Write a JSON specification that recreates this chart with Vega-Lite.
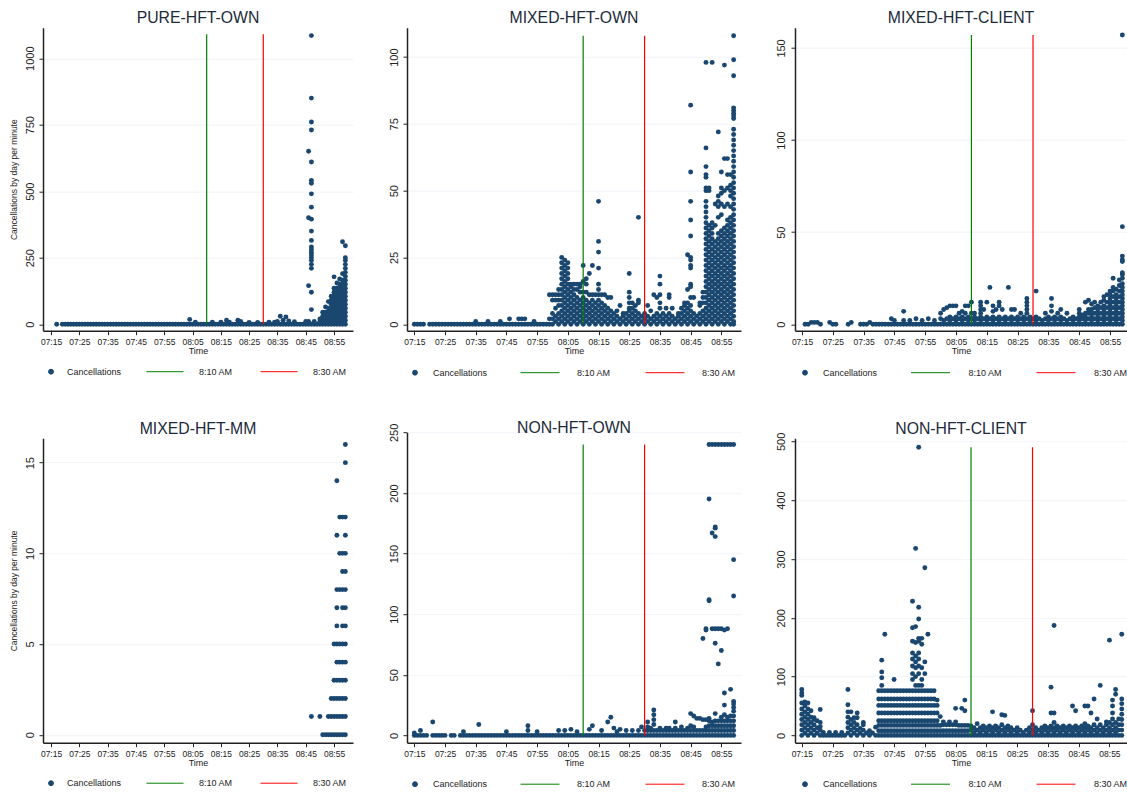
{"$schema":"https://vega.github.io/schema/vega-lite/v6.json","padding":{"left":9,"top":9.7,"right":0,"bottom":0},"background":"white","bounds":"flush","columns":3,"spacing":{"column":54,"row":107.5},"align":"none","resolve":{"scale":{"color":"independent"},"legend":{"color":"independent"}},"config":{"font":"Liberation Sans","view":{"stroke":null},"title":{"font":"Liberation Sans","fontSize":15.8,"fontWeight":"normal","color":"#1c2a3a","offset":1},"axis":{"labelFont":"Liberation Sans","titleFont":"Liberation Sans","grid":false,"domainColor":"#222","domainWidth":1.5,"tickColor":"#222","titleFontWeight":"normal"},"axisX":{"tickSize":4,"labelFontSize":8.5,"labelPadding":3,"titleFontSize":9,"titlePadding":0,"labelColor":"#222","titleColor":"#222","labelExpr":"timeFormat(datetime(2020,0,1,7,datum.value),'%H:%M')"},"axisY":{"grid":true,"gridColor":"#f1f4f8","gridWidth":1,"tickSize":4,"labelFontSize":11,"labelAngle":-90,"labelPadding":4,"labelColor":"#222","titleFontSize":8.5,"titlePadding":6,"titleColor":"#222","format":"d"},"legend":{"orient":"none","direction":"horizontal","columns":3,"gridAlign":"all","title":null,"labelFontSize":9,"labelColor":"#222","symbolSize":1369,"columnPadding":22,"labelOffset":15,"legendY":325}},"concat":[{"title":"PURE-HFT-OWN","width":310,"height":303,"layer":[{"data":{"values":[{"t":17,"n":0},{"t":19,"n":0},{"t":20,"n":0},{"t":21,"n":0},{"t":22,"n":0},{"t":23,"n":0},{"t":24,"n":0},{"t":25,"n":0},{"t":26,"n":0},{"t":27,"n":0},{"t":28,"n":0},{"t":29,"n":0},{"t":30,"n":0},{"t":31,"n":0},{"t":32,"n":0},{"t":33,"n":0},{"t":34,"n":0},{"t":35,"n":0},{"t":36,"n":0},{"t":37,"n":0},{"t":38,"n":0},{"t":39,"n":0},{"t":40,"n":0},{"t":41,"n":0},{"t":42,"n":0},{"t":43,"n":0},{"t":44,"n":0},{"t":45,"n":0},{"t":46,"n":0},{"t":47,"n":0},{"t":48,"n":0},{"t":49,"n":0},{"t":50,"n":0},{"t":51,"n":0},{"t":52,"n":0},{"t":53,"n":0},{"t":54,"n":0},{"t":55,"n":0},{"t":56,"n":0},{"t":57,"n":0},{"t":58,"n":0},{"t":59,"n":0},{"t":60,"n":0},{"t":61,"n":0},{"t":62,"n":0},{"t":63,"n":0},{"t":64,"n":0},{"t":65,"n":0},{"t":66,"n":0},{"t":67,"n":0},{"t":68,"n":0},{"t":69,"n":0},{"t":70,"n":0},{"t":71,"n":0},{"t":72,"n":0},{"t":73,"n":0},{"t":74,"n":0},{"t":75,"n":0},{"t":76,"n":0},{"t":77,"n":0},{"t":78,"n":0},{"t":79,"n":0},{"t":80,"n":0},{"t":81,"n":0},{"t":82,"n":0},{"t":83,"n":0},{"t":84,"n":0},{"t":85,"n":0},{"t":86,"n":0},{"t":87,"n":0},{"t":88,"n":0},{"t":89,"n":0},{"t":90,"n":0},{"t":91,"n":0},{"t":92,"n":0},{"t":93,"n":0},{"t":94,"n":0},{"t":95,"n":0},{"t":96,"n":0},{"t":97,"n":0},{"t":98,"n":0},{"t":99,"n":0},{"t":100,"n":0},{"t":101,"n":0},{"t":102,"n":0},{"t":103,"n":0},{"t":104,"n":0},{"t":105,"n":0},{"t":106,"n":0},{"t":107,"n":0},{"t":108,"n":0},{"t":109,"n":0},{"t":110,"n":0},{"t":111,"n":0},{"t":112,"n":0},{"t":113,"n":0},{"t":114,"n":0},{"t":115,"n":0},{"t":116,"n":0},{"t":117,"n":0},{"t":118,"n":0},{"t":119,"n":0},{"t":64,"n":18},{"t":66,"n":8},{"t":72,"n":8},{"t":75,"n":8},{"t":77,"n":15},{"t":78,"n":8},{"t":81,"n":15},{"t":82,"n":10},{"t":85,"n":7},{"t":88,"n":7},{"t":92,"n":8},{"t":94,"n":8},{"t":95,"n":10},{"t":96,"n":30},{"t":97,"n":15},{"t":98,"n":27},{"t":99,"n":12},{"t":101,"n":9},{"t":105,"n":10},{"t":106,"n":10},{"t":108,"n":10},{"t":107,"n":1085},{"t":107,"n":850},{"t":107,"n":760},{"t":107,"n":730},{"t":107,"n":610},{"t":107,"n":540},{"t":107,"n":530},{"t":107,"n":490},{"t":107,"n":440},{"t":107,"n":395},{"t":107,"n":350},{"t":107,"n":315},{"t":107,"n":290},{"t":107,"n":280},{"t":107,"n":270},{"t":107,"n":260},{"t":107,"n":250},{"t":107,"n":240},{"t":107,"n":225},{"t":107,"n":210},{"t":107,"n":120},{"t":107,"n":55},{"t":106,"n":650},{"t":106,"n":400},{"t":106,"n":145},{"t":110,"n":10},{"t":110,"n":20},{"t":111,"n":15},{"t":111,"n":30},{"t":111,"n":45},{"t":112,"n":15},{"t":112,"n":30},{"t":112,"n":45},{"t":112,"n":65},{"t":113,"n":15},{"t":113,"n":30},{"t":113,"n":45},{"t":113,"n":60},{"t":113,"n":85},{"t":114,"n":15},{"t":114,"n":30},{"t":114,"n":45},{"t":114,"n":60},{"t":114,"n":75},{"t":114,"n":90},{"t":114,"n":105},{"t":115,"n":15},{"t":115,"n":30},{"t":115,"n":45},{"t":115,"n":60},{"t":115,"n":75},{"t":115,"n":90},{"t":115,"n":105},{"t":115,"n":120},{"t":115,"n":135},{"t":115,"n":178},{"t":116,"n":15},{"t":116,"n":30},{"t":116,"n":45},{"t":116,"n":60},{"t":116,"n":75},{"t":116,"n":90},{"t":116,"n":105},{"t":116,"n":120},{"t":116,"n":135},{"t":116,"n":155},{"t":117,"n":15},{"t":117,"n":30},{"t":117,"n":45},{"t":117,"n":60},{"t":117,"n":75},{"t":117,"n":90},{"t":117,"n":105},{"t":117,"n":120},{"t":117,"n":135},{"t":117,"n":150},{"t":117,"n":170},{"t":118,"n":15},{"t":118,"n":30},{"t":118,"n":45},{"t":118,"n":60},{"t":118,"n":75},{"t":118,"n":90},{"t":118,"n":105},{"t":118,"n":120},{"t":118,"n":135},{"t":118,"n":150},{"t":118,"n":165},{"t":118,"n":190},{"t":118,"n":310},{"t":119,"n":15},{"t":119,"n":30},{"t":119,"n":45},{"t":119,"n":60},{"t":119,"n":75},{"t":119,"n":90},{"t":119,"n":105},{"t":119,"n":120},{"t":119,"n":135},{"t":119,"n":150},{"t":119,"n":165},{"t":119,"n":180},{"t":119,"n":195},{"t":119,"n":210},{"t":119,"n":225},{"t":119,"n":240},{"t":119,"n":250},{"t":119,"n":295}]},"mark":{"type":"point","filled":true,"opacity":1,"shape":"circle","size":24},"encoding":{"x":{"field":"t","type":"quantitative","title":"Time","scale":{"domain":[12.17,121.7],"nice":false,"zero":false},"axis":{"values":[15,25,35,45,55,65,75,85,95,105,115],"labelOverlap":false}},"y":{"field":"n","type":"quantitative","title":"Cancellations by day per minute","scale":{"domain":[-24.4,1114.7],"nice":false,"zero":false},"axis":{"values":[0,250,500,750,1000]}},"color":{"datum":"Cancellations","scale":{"domain":["Cancellations","8:10 AM","8:30 AM"],"range":["#1a476f","#008000","#ff0000"]},"legend":{"legendX":-11,"encoding":{"symbols":{"shape":{"value":{"signal":"datum.value==='Cancellations'?'circle':'stroke'"}},"size":{"value":{"signal":"datum.value==='Cancellations'?24:1369"}},"stroke":{"value":{"signal":"datum.value==='Cancellations'?'#1a476f':datum.value==='8:10 AM'?'#008000':'#ff0000'"}},"strokeWidth":{"value":1}},"labels":{"dx":{"value":{"signal":"datum.value==='Cancellations'?-18:0"}}}}}}}},{"data":{"values":[{"t":70,"a":0,"b":1090,"s":"8:10 AM"},{"t":90,"a":0,"b":1090,"s":"8:30 AM"}]},"mark":{"type":"rule","strokeWidth":1.2},"encoding":{"x":{"field":"t","type":"quantitative","title":"Time","axis":{"values":[15,25,35,45,55,65,75,85,95,105,115],"labelOverlap":false}},"y":{"field":"a","type":"quantitative"},"y2":{"field":"b"},"color":{"field":"s","type":"nominal"}}}]},{"title":"MIXED-HFT-OWN","width":334,"height":303,"layer":[{"data":{"values":[{"t":15,"n":0},{"t":16,"n":0},{"t":17,"n":0},{"t":18,"n":0},{"t":20,"n":0},{"t":21,"n":0},{"t":22,"n":0},{"t":23,"n":0},{"t":24,"n":0},{"t":25,"n":0},{"t":26,"n":0},{"t":27,"n":0},{"t":28,"n":0},{"t":29,"n":0},{"t":30,"n":0},{"t":31,"n":0},{"t":32,"n":0},{"t":33,"n":0},{"t":34,"n":0},{"t":35,"n":0},{"t":35,"n":1},{"t":36,"n":0},{"t":37,"n":0},{"t":38,"n":0},{"t":39,"n":0},{"t":39,"n":1},{"t":40,"n":0},{"t":41,"n":0},{"t":42,"n":0},{"t":43,"n":0},{"t":43,"n":1},{"t":44,"n":0},{"t":45,"n":0},{"t":46,"n":0},{"t":46,"n":2},{"t":47,"n":0},{"t":48,"n":0},{"t":49,"n":0},{"t":49,"n":2},{"t":50,"n":0},{"t":50,"n":2},{"t":51,"n":0},{"t":51,"n":2},{"t":52,"n":0},{"t":53,"n":0},{"t":54,"n":0},{"t":54,"n":1},{"t":55,"n":0},{"t":56,"n":0},{"t":57,"n":0},{"t":58,"n":0},{"t":59,"n":0},{"t":59,"n":2},{"t":59,"n":11},{"t":60,"n":0},{"t":60,"n":2},{"t":60,"n":4},{"t":60,"n":9},{"t":60,"n":11},{"t":61,"n":1},{"t":61,"n":3},{"t":61,"n":6},{"t":61,"n":9},{"t":61,"n":11},{"t":62,"n":0},{"t":62,"n":2},{"t":62,"n":4},{"t":62,"n":7},{"t":62,"n":9},{"t":62,"n":11},{"t":62,"n":13},{"t":63,"n":1},{"t":63,"n":3},{"t":63,"n":5},{"t":63,"n":7},{"t":63,"n":9},{"t":63,"n":11},{"t":63,"n":13},{"t":63,"n":15},{"t":63,"n":17},{"t":63,"n":19},{"t":63,"n":21},{"t":63,"n":23},{"t":63,"n":25},{"t":64,"n":0},{"t":64,"n":2},{"t":64,"n":4},{"t":64,"n":6},{"t":64,"n":8},{"t":64,"n":10},{"t":64,"n":12},{"t":64,"n":14},{"t":64,"n":16},{"t":64,"n":18},{"t":64,"n":20},{"t":64,"n":22},{"t":64,"n":24},{"t":65,"n":1},{"t":65,"n":3},{"t":65,"n":5},{"t":65,"n":7},{"t":65,"n":9},{"t":65,"n":11},{"t":65,"n":13},{"t":65,"n":15},{"t":65,"n":17},{"t":65,"n":19},{"t":65,"n":21},{"t":65,"n":23},{"t":66,"n":0},{"t":66,"n":2},{"t":66,"n":4},{"t":66,"n":6},{"t":66,"n":8},{"t":66,"n":10},{"t":66,"n":12},{"t":66,"n":14},{"t":66,"n":15},{"t":67,"n":1},{"t":67,"n":3},{"t":67,"n":5},{"t":67,"n":7},{"t":67,"n":9},{"t":67,"n":11},{"t":67,"n":13},{"t":67,"n":15},{"t":68,"n":0},{"t":68,"n":2},{"t":68,"n":4},{"t":68,"n":6},{"t":68,"n":8},{"t":68,"n":10},{"t":68,"n":13},{"t":68,"n":15},{"t":69,"n":1},{"t":69,"n":3},{"t":69,"n":5},{"t":69,"n":7},{"t":69,"n":9},{"t":69,"n":12},{"t":69,"n":14},{"t":69,"n":15},{"t":70,"n":0},{"t":70,"n":2},{"t":70,"n":4},{"t":70,"n":6},{"t":70,"n":8},{"t":70,"n":10},{"t":70,"n":12},{"t":70,"n":16},{"t":70,"n":22},{"t":71,"n":1},{"t":71,"n":3},{"t":71,"n":5},{"t":71,"n":7},{"t":71,"n":9},{"t":71,"n":12},{"t":71,"n":15},{"t":71,"n":17},{"t":72,"n":0},{"t":72,"n":2},{"t":72,"n":4},{"t":72,"n":6},{"t":72,"n":8},{"t":72,"n":11},{"t":72,"n":19},{"t":73,"n":1},{"t":73,"n":3},{"t":73,"n":5},{"t":73,"n":7},{"t":73,"n":9},{"t":73,"n":11},{"t":73,"n":22},{"t":74,"n":0},{"t":74,"n":2},{"t":74,"n":4},{"t":74,"n":6},{"t":74,"n":8},{"t":74,"n":11},{"t":75,"n":1},{"t":75,"n":3},{"t":75,"n":5},{"t":75,"n":7},{"t":75,"n":9},{"t":75,"n":11},{"t":75,"n":13},{"t":75,"n":15},{"t":75,"n":21},{"t":75,"n":27},{"t":75,"n":31},{"t":75,"n":46},{"t":76,"n":0},{"t":76,"n":2},{"t":76,"n":4},{"t":76,"n":6},{"t":76,"n":8},{"t":76,"n":11},{"t":77,"n":1},{"t":77,"n":3},{"t":77,"n":5},{"t":77,"n":7},{"t":77,"n":11},{"t":78,"n":0},{"t":78,"n":2},{"t":78,"n":4},{"t":78,"n":6},{"t":78,"n":10},{"t":79,"n":1},{"t":79,"n":3},{"t":79,"n":5},{"t":79,"n":10},{"t":80,"n":0},{"t":80,"n":2},{"t":80,"n":4},{"t":81,"n":1},{"t":81,"n":3},{"t":81,"n":5},{"t":82,"n":0},{"t":82,"n":2},{"t":82,"n":7},{"t":83,"n":1},{"t":83,"n":3},{"t":83,"n":4},{"t":84,"n":0},{"t":84,"n":2},{"t":84,"n":4},{"t":85,"n":1},{"t":85,"n":3},{"t":85,"n":5},{"t":85,"n":6},{"t":85,"n":8},{"t":85,"n":10},{"t":85,"n":12},{"t":85,"n":19},{"t":86,"n":0},{"t":86,"n":2},{"t":86,"n":4},{"t":86,"n":6},{"t":86,"n":8},{"t":87,"n":1},{"t":87,"n":3},{"t":87,"n":5},{"t":87,"n":7},{"t":88,"n":0},{"t":88,"n":2},{"t":88,"n":4},{"t":88,"n":8},{"t":88,"n":9},{"t":88,"n":40},{"t":89,"n":1},{"t":89,"n":3},{"t":90,"n":0},{"t":90,"n":2},{"t":90,"n":4},{"t":91,"n":1},{"t":91,"n":3},{"t":91,"n":7},{"t":92,"n":0},{"t":92,"n":2},{"t":92,"n":5},{"t":93,"n":1},{"t":93,"n":3},{"t":93,"n":11},{"t":94,"n":0},{"t":94,"n":2},{"t":94,"n":4},{"t":94,"n":10},{"t":95,"n":1},{"t":95,"n":3},{"t":95,"n":6},{"t":95,"n":8},{"t":95,"n":11},{"t":95,"n":15},{"t":95,"n":18},{"t":96,"n":0},{"t":96,"n":2},{"t":96,"n":4},{"t":97,"n":1},{"t":97,"n":3},{"t":97,"n":6},{"t":98,"n":0},{"t":98,"n":2},{"t":98,"n":4},{"t":98,"n":10},{"t":98,"n":11},{"t":99,"n":1},{"t":99,"n":3},{"t":99,"n":6},{"t":100,"n":0},{"t":100,"n":2},{"t":101,"n":1},{"t":101,"n":3},{"t":101,"n":4},{"t":102,"n":0},{"t":102,"n":2},{"t":102,"n":4},{"t":102,"n":6},{"t":103,"n":1},{"t":103,"n":3},{"t":103,"n":5},{"t":103,"n":7},{"t":103,"n":8},{"t":104,"n":0},{"t":104,"n":2},{"t":104,"n":4},{"t":104,"n":6},{"t":104,"n":8},{"t":104,"n":13},{"t":104,"n":26},{"t":105,"n":1},{"t":105,"n":3},{"t":105,"n":5},{"t":105,"n":7},{"t":105,"n":10},{"t":105,"n":14},{"t":105,"n":15},{"t":105,"n":21},{"t":105,"n":22},{"t":105,"n":24},{"t":105,"n":25},{"t":105,"n":33},{"t":105,"n":39},{"t":105,"n":46},{"t":105,"n":57},{"t":105,"n":82},{"t":106,"n":0},{"t":106,"n":2},{"t":106,"n":4},{"t":106,"n":10},{"t":107,"n":1},{"t":107,"n":3},{"t":108,"n":0},{"t":108,"n":2},{"t":108,"n":4},{"t":108,"n":7},{"t":108,"n":8},{"t":109,"n":1},{"t":109,"n":3},{"t":109,"n":5},{"t":109,"n":8},{"t":109,"n":10},{"t":109,"n":12},{"t":110,"n":0},{"t":110,"n":2},{"t":110,"n":4},{"t":110,"n":6},{"t":110,"n":8},{"t":110,"n":10},{"t":110,"n":12},{"t":110,"n":14},{"t":110,"n":16},{"t":110,"n":18},{"t":110,"n":20},{"t":110,"n":22},{"t":110,"n":24},{"t":110,"n":26},{"t":110,"n":28},{"t":110,"n":30},{"t":110,"n":32},{"t":110,"n":34},{"t":110,"n":36},{"t":110,"n":38},{"t":110,"n":40},{"t":110,"n":42},{"t":110,"n":44},{"t":110,"n":46},{"t":110,"n":50},{"t":110,"n":51},{"t":110,"n":55},{"t":110,"n":56},{"t":110,"n":59},{"t":110,"n":66},{"t":110,"n":98},{"t":111,"n":1},{"t":111,"n":3},{"t":111,"n":5},{"t":111,"n":7},{"t":111,"n":9},{"t":111,"n":11},{"t":111,"n":13},{"t":111,"n":15},{"t":111,"n":17},{"t":111,"n":19},{"t":111,"n":21},{"t":111,"n":23},{"t":111,"n":25},{"t":111,"n":27},{"t":111,"n":29},{"t":111,"n":31},{"t":111,"n":33},{"t":111,"n":35},{"t":111,"n":37},{"t":111,"n":50},{"t":111,"n":51},{"t":112,"n":0},{"t":112,"n":2},{"t":112,"n":4},{"t":112,"n":6},{"t":112,"n":8},{"t":112,"n":10},{"t":112,"n":12},{"t":112,"n":14},{"t":112,"n":16},{"t":112,"n":18},{"t":112,"n":20},{"t":112,"n":22},{"t":112,"n":24},{"t":112,"n":26},{"t":112,"n":28},{"t":112,"n":30},{"t":112,"n":32},{"t":112,"n":34},{"t":112,"n":36},{"t":112,"n":38},{"t":112,"n":98},{"t":113,"n":1},{"t":113,"n":3},{"t":113,"n":5},{"t":113,"n":7},{"t":113,"n":9},{"t":113,"n":11},{"t":113,"n":13},{"t":113,"n":15},{"t":113,"n":17},{"t":113,"n":19},{"t":113,"n":21},{"t":113,"n":23},{"t":113,"n":25},{"t":113,"n":27},{"t":113,"n":29},{"t":113,"n":31},{"t":113,"n":37},{"t":113,"n":45},{"t":114,"n":0},{"t":114,"n":2},{"t":114,"n":4},{"t":114,"n":6},{"t":114,"n":8},{"t":114,"n":10},{"t":114,"n":12},{"t":114,"n":14},{"t":114,"n":16},{"t":114,"n":18},{"t":114,"n":20},{"t":114,"n":22},{"t":114,"n":24},{"t":114,"n":26},{"t":114,"n":28},{"t":114,"n":30},{"t":114,"n":32},{"t":114,"n":34},{"t":114,"n":40},{"t":114,"n":44},{"t":114,"n":46},{"t":114,"n":48},{"t":114,"n":72},{"t":115,"n":1},{"t":115,"n":3},{"t":115,"n":5},{"t":115,"n":7},{"t":115,"n":9},{"t":115,"n":11},{"t":115,"n":13},{"t":115,"n":15},{"t":115,"n":17},{"t":115,"n":19},{"t":115,"n":21},{"t":115,"n":23},{"t":115,"n":25},{"t":115,"n":27},{"t":115,"n":29},{"t":115,"n":31},{"t":115,"n":33},{"t":115,"n":35},{"t":115,"n":41},{"t":115,"n":45},{"t":115,"n":49},{"t":115,"n":51},{"t":115,"n":57},{"t":116,"n":0},{"t":116,"n":2},{"t":116,"n":4},{"t":116,"n":6},{"t":116,"n":8},{"t":116,"n":10},{"t":116,"n":12},{"t":116,"n":14},{"t":116,"n":16},{"t":116,"n":18},{"t":116,"n":20},{"t":116,"n":22},{"t":116,"n":24},{"t":116,"n":26},{"t":116,"n":28},{"t":116,"n":30},{"t":116,"n":32},{"t":116,"n":34},{"t":116,"n":36},{"t":116,"n":44},{"t":116,"n":50},{"t":116,"n":62},{"t":116,"n":97},{"t":117,"n":1},{"t":117,"n":3},{"t":117,"n":5},{"t":117,"n":7},{"t":117,"n":9},{"t":117,"n":11},{"t":117,"n":13},{"t":117,"n":15},{"t":117,"n":17},{"t":117,"n":19},{"t":117,"n":21},{"t":117,"n":23},{"t":117,"n":25},{"t":117,"n":27},{"t":117,"n":29},{"t":117,"n":31},{"t":117,"n":33},{"t":117,"n":35},{"t":117,"n":37},{"t":117,"n":39},{"t":117,"n":45},{"t":117,"n":51},{"t":117,"n":56},{"t":117,"n":62},{"t":118,"n":0},{"t":118,"n":2},{"t":118,"n":4},{"t":118,"n":6},{"t":118,"n":8},{"t":118,"n":10},{"t":118,"n":12},{"t":118,"n":14},{"t":118,"n":16},{"t":118,"n":18},{"t":118,"n":20},{"t":118,"n":22},{"t":118,"n":24},{"t":118,"n":26},{"t":118,"n":28},{"t":118,"n":30},{"t":118,"n":32},{"t":118,"n":34},{"t":118,"n":36},{"t":118,"n":38},{"t":118,"n":40},{"t":118,"n":44},{"t":118,"n":48},{"t":118,"n":50},{"t":118,"n":52},{"t":118,"n":56},{"t":119,"n":0},{"t":119,"n":1},{"t":119,"n":3},{"t":119,"n":5},{"t":119,"n":7},{"t":119,"n":9},{"t":119,"n":11},{"t":119,"n":13},{"t":119,"n":15},{"t":119,"n":17},{"t":119,"n":19},{"t":119,"n":21},{"t":119,"n":23},{"t":119,"n":25},{"t":119,"n":27},{"t":119,"n":29},{"t":119,"n":31},{"t":119,"n":33},{"t":119,"n":35},{"t":119,"n":37},{"t":119,"n":39},{"t":119,"n":41},{"t":119,"n":43},{"t":119,"n":45},{"t":119,"n":47},{"t":119,"n":49},{"t":119,"n":51},{"t":119,"n":53},{"t":119,"n":55},{"t":119,"n":57},{"t":119,"n":59},{"t":119,"n":61},{"t":119,"n":63},{"t":119,"n":65},{"t":119,"n":67},{"t":119,"n":69},{"t":119,"n":71},{"t":119,"n":73},{"t":119,"n":77},{"t":119,"n":78},{"t":119,"n":79},{"t":119,"n":80},{"t":119,"n":81},{"t":119,"n":93},{"t":119,"n":99},{"t":119,"n":108}]},"mark":{"type":"point","filled":true,"opacity":1,"shape":"circle","size":24},"encoding":{"x":{"field":"t","type":"quantitative","title":"Time","scale":{"domain":[12.62,121.4],"nice":false,"zero":false},"axis":{"values":[15,25,35,45,55,65,75,85,95,105,115],"labelOverlap":false}},"y":{"field":"n","type":"quantitative","title":null,"scale":{"domain":[-2.43,111],"nice":false,"zero":false},"axis":{"values":[0,25,50,75,100]}},"color":{"datum":"Cancellations","scale":{"domain":["Cancellations","8:10 AM","8:30 AM"],"range":["#1a476f","#008000","#ff0000"]},"legend":{"legendX":-12,"symbolSize":1521,"labelOffset":17,"columnPadding":30,"encoding":{"symbols":{"shape":{"value":{"signal":"datum.value==='Cancellations'?'circle':'stroke'"}},"size":{"value":{"signal":"datum.value==='Cancellations'?24:1521"}},"stroke":{"value":{"signal":"datum.value==='Cancellations'?'#1a476f':datum.value==='8:10 AM'?'#008000':'#ff0000'"}},"strokeWidth":{"value":1}},"labels":{"dx":{"value":{"signal":"datum.value==='Cancellations'?-19:0"}}}}}}}},{"data":{"values":[{"t":70,"a":0,"b":108,"s":"8:10 AM"},{"t":90,"a":0,"b":108,"s":"8:30 AM"}]},"mark":{"type":"rule","strokeWidth":1.2},"encoding":{"x":{"field":"t","type":"quantitative","title":"Time","axis":{"values":[15,25,35,45,55,65,75,85,95,105,115],"labelOverlap":false}},"y":{"field":"a","type":"quantitative"},"y2":{"field":"b"},"color":{"field":"s","type":"nominal"}}}]},{"title":"MIXED-HFT-CLIENT","width":332,"height":303,"layer":[{"data":{"values":[{"t":16,"n":0},{"t":17,"n":0},{"t":18,"n":1},{"t":19,"n":1},{"t":20,"n":1},{"t":21,"n":0},{"t":24,"n":1},{"t":25,"n":0},{"t":26,"n":0},{"t":30,"n":0},{"t":31,"n":1},{"t":34,"n":0},{"t":35,"n":0},{"t":36,"n":0},{"t":37,"n":1},{"t":38,"n":0},{"t":39,"n":0},{"t":40,"n":0},{"t":41,"n":0},{"t":42,"n":0},{"t":43,"n":0},{"t":44,"n":0},{"t":44,"n":3},{"t":45,"n":0},{"t":45,"n":2},{"t":46,"n":0},{"t":47,"n":0},{"t":48,"n":0},{"t":48,"n":2},{"t":48,"n":7},{"t":49,"n":0},{"t":50,"n":0},{"t":50,"n":2},{"t":51,"n":0},{"t":52,"n":0},{"t":52,"n":3},{"t":53,"n":0},{"t":54,"n":0},{"t":54,"n":2},{"t":55,"n":0},{"t":56,"n":0},{"t":56,"n":3},{"t":57,"n":0},{"t":58,"n":0},{"t":58,"n":2},{"t":59,"n":0},{"t":60,"n":0},{"t":60,"n":3},{"t":60,"n":6},{"t":61,"n":0},{"t":61,"n":2},{"t":61,"n":8},{"t":62,"n":0},{"t":62,"n":3},{"t":62,"n":9},{"t":63,"n":0},{"t":63,"n":2},{"t":63,"n":4},{"t":63,"n":10},{"t":64,"n":0},{"t":64,"n":3},{"t":64,"n":10},{"t":65,"n":0},{"t":65,"n":2},{"t":65,"n":4},{"t":65,"n":10},{"t":66,"n":0},{"t":66,"n":3},{"t":66,"n":6},{"t":67,"n":0},{"t":67,"n":2},{"t":67,"n":4},{"t":67,"n":7},{"t":68,"n":0},{"t":68,"n":3},{"t":68,"n":6},{"t":68,"n":10},{"t":69,"n":0},{"t":69,"n":2},{"t":69,"n":4},{"t":69,"n":10},{"t":70,"n":0},{"t":70,"n":3},{"t":70,"n":6},{"t":70,"n":12},{"t":71,"n":0},{"t":71,"n":2},{"t":71,"n":4},{"t":71,"n":6},{"t":72,"n":0},{"t":72,"n":3},{"t":73,"n":0},{"t":73,"n":2},{"t":73,"n":4},{"t":73,"n":6},{"t":73,"n":8},{"t":73,"n":10},{"t":73,"n":12},{"t":74,"n":0},{"t":74,"n":3},{"t":74,"n":8},{"t":75,"n":0},{"t":75,"n":2},{"t":75,"n":4},{"t":75,"n":12},{"t":76,"n":0},{"t":76,"n":3},{"t":76,"n":20},{"t":77,"n":0},{"t":77,"n":2},{"t":77,"n":4},{"t":77,"n":7},{"t":77,"n":10},{"t":78,"n":0},{"t":78,"n":3},{"t":78,"n":8},{"t":79,"n":0},{"t":79,"n":2},{"t":79,"n":4},{"t":79,"n":10},{"t":79,"n":12},{"t":80,"n":0},{"t":80,"n":3},{"t":80,"n":8},{"t":81,"n":0},{"t":81,"n":2},{"t":81,"n":4},{"t":82,"n":0},{"t":82,"n":3},{"t":82,"n":20},{"t":83,"n":0},{"t":83,"n":2},{"t":83,"n":4},{"t":83,"n":8},{"t":84,"n":0},{"t":84,"n":3},{"t":84,"n":8},{"t":85,"n":0},{"t":85,"n":2},{"t":85,"n":4},{"t":86,"n":0},{"t":86,"n":3},{"t":86,"n":6},{"t":87,"n":0},{"t":87,"n":2},{"t":87,"n":4},{"t":88,"n":0},{"t":88,"n":3},{"t":88,"n":6},{"t":88,"n":8},{"t":88,"n":10},{"t":88,"n":12},{"t":88,"n":14},{"t":89,"n":0},{"t":89,"n":2},{"t":89,"n":4},{"t":90,"n":0},{"t":90,"n":3},{"t":91,"n":0},{"t":91,"n":2},{"t":91,"n":4},{"t":91,"n":18},{"t":92,"n":0},{"t":92,"n":3},{"t":93,"n":0},{"t":93,"n":2},{"t":94,"n":0},{"t":94,"n":3},{"t":94,"n":6},{"t":95,"n":0},{"t":95,"n":2},{"t":95,"n":4},{"t":96,"n":0},{"t":96,"n":3},{"t":96,"n":7},{"t":96,"n":10},{"t":96,"n":14},{"t":97,"n":0},{"t":97,"n":2},{"t":97,"n":4},{"t":98,"n":0},{"t":98,"n":3},{"t":98,"n":6},{"t":99,"n":0},{"t":99,"n":2},{"t":99,"n":4},{"t":99,"n":8},{"t":100,"n":0},{"t":100,"n":3},{"t":101,"n":0},{"t":101,"n":2},{"t":101,"n":6},{"t":102,"n":0},{"t":102,"n":3},{"t":103,"n":0},{"t":103,"n":2},{"t":103,"n":4},{"t":104,"n":0},{"t":104,"n":3},{"t":105,"n":0},{"t":105,"n":2},{"t":105,"n":4},{"t":105,"n":6},{"t":105,"n":8},{"t":106,"n":0},{"t":106,"n":3},{"t":106,"n":5},{"t":107,"n":0},{"t":107,"n":2},{"t":107,"n":4},{"t":107,"n":6},{"t":107,"n":12},{"t":108,"n":0},{"t":108,"n":3},{"t":108,"n":6},{"t":108,"n":8},{"t":108,"n":13},{"t":109,"n":0},{"t":109,"n":2},{"t":109,"n":4},{"t":109,"n":6},{"t":109,"n":8},{"t":109,"n":11},{"t":110,"n":0},{"t":110,"n":3},{"t":110,"n":6},{"t":110,"n":9},{"t":110,"n":12},{"t":111,"n":0},{"t":111,"n":2},{"t":111,"n":4},{"t":111,"n":6},{"t":111,"n":8},{"t":111,"n":10},{"t":112,"n":0},{"t":112,"n":3},{"t":112,"n":6},{"t":112,"n":9},{"t":112,"n":12},{"t":113,"n":0},{"t":113,"n":2},{"t":113,"n":4},{"t":113,"n":6},{"t":113,"n":8},{"t":113,"n":10},{"t":113,"n":13},{"t":113,"n":15},{"t":114,"n":0},{"t":114,"n":3},{"t":114,"n":6},{"t":114,"n":9},{"t":114,"n":12},{"t":114,"n":16},{"t":115,"n":0},{"t":115,"n":2},{"t":115,"n":4},{"t":115,"n":6},{"t":115,"n":8},{"t":115,"n":10},{"t":115,"n":12},{"t":115,"n":14},{"t":115,"n":16},{"t":115,"n":18},{"t":116,"n":0},{"t":116,"n":3},{"t":116,"n":6},{"t":116,"n":9},{"t":116,"n":12},{"t":116,"n":15},{"t":116,"n":18},{"t":116,"n":20},{"t":116,"n":25},{"t":117,"n":0},{"t":117,"n":2},{"t":117,"n":4},{"t":117,"n":6},{"t":117,"n":8},{"t":117,"n":10},{"t":117,"n":12},{"t":117,"n":14},{"t":117,"n":16},{"t":117,"n":19},{"t":118,"n":0},{"t":118,"n":3},{"t":118,"n":6},{"t":118,"n":9},{"t":118,"n":12},{"t":118,"n":15},{"t":118,"n":18},{"t":118,"n":21},{"t":118,"n":24},{"t":119,"n":0},{"t":119,"n":2},{"t":119,"n":4},{"t":119,"n":6},{"t":119,"n":8},{"t":119,"n":10},{"t":119,"n":12},{"t":119,"n":14},{"t":119,"n":16},{"t":119,"n":18},{"t":119,"n":20},{"t":119,"n":22},{"t":119,"n":25},{"t":119,"n":27},{"t":119,"n":28},{"t":119,"n":34},{"t":119,"n":35},{"t":119,"n":37},{"t":119,"n":53},{"t":119,"n":157}]},"mark":{"type":"point","filled":true,"opacity":1,"shape":"circle","size":24},"encoding":{"x":{"field":"t","type":"quantitative","title":"Time","scale":{"domain":[12.73,120.5],"nice":false,"zero":false},"axis":{"values":[15,25,35,45,55,65,75,85,95,105,115],"labelOverlap":false}},"y":{"field":"n","type":"quantitative","title":null,"scale":{"domain":[-3.5,161],"nice":false,"zero":false},"axis":{"values":[0,50,100,150]}},"color":{"datum":"Cancellations","scale":{"domain":["Cancellations","8:10 AM","8:30 AM"],"range":["#1a476f","#008000","#ff0000"]},"legend":{"legendX":-10,"symbolSize":1521,"labelOffset":18,"columnPadding":30.5,"encoding":{"symbols":{"shape":{"value":{"signal":"datum.value==='Cancellations'?'circle':'stroke'"}},"size":{"value":{"signal":"datum.value==='Cancellations'?24:1521"}},"stroke":{"value":{"signal":"datum.value==='Cancellations'?'#1a476f':datum.value==='8:10 AM'?'#008000':'#ff0000'"}},"strokeWidth":{"value":1}},"labels":{"dx":{"value":{"signal":"datum.value==='Cancellations'?-20:0"}}}}}}}},{"data":{"values":[{"t":70,"a":0,"b":157,"s":"8:10 AM"},{"t":90,"a":0,"b":157,"s":"8:30 AM"}]},"mark":{"type":"rule","strokeWidth":1.2},"encoding":{"x":{"field":"t","type":"quantitative","title":"Time","axis":{"values":[15,25,35,45,55,65,75,85,95,105,115],"labelOverlap":false}},"y":{"field":"a","type":"quantitative"},"y2":{"field":"b"},"color":{"field":"s","type":"nominal"}}}]},{"title":{"text":"MIXED-HFT-MM","dy":1},"width":310,"height":304.5,"layer":[{"data":{"values":[{"t":107,"n":1},{"t":110,"n":1},{"t":111,"n":0},{"t":112,"n":0},{"t":113,"n":0},{"t":113,"n":1},{"t":114,"n":0},{"t":114,"n":1},{"t":114,"n":2},{"t":115,"n":0},{"t":115,"n":1},{"t":115,"n":2},{"t":115,"n":3},{"t":115,"n":5},{"t":116,"n":0},{"t":116,"n":1},{"t":116,"n":2},{"t":116,"n":3},{"t":116,"n":4},{"t":116,"n":5},{"t":116,"n":6},{"t":116,"n":7},{"t":116,"n":8},{"t":116,"n":11},{"t":116,"n":14},{"t":117,"n":0},{"t":117,"n":1},{"t":117,"n":2},{"t":117,"n":3},{"t":117,"n":4},{"t":117,"n":5},{"t":117,"n":8},{"t":117,"n":10},{"t":117,"n":12},{"t":118,"n":0},{"t":118,"n":1},{"t":118,"n":2},{"t":118,"n":3},{"t":118,"n":4},{"t":118,"n":5},{"t":118,"n":6},{"t":118,"n":7},{"t":118,"n":8},{"t":118,"n":9},{"t":118,"n":10},{"t":118,"n":12},{"t":119,"n":0},{"t":119,"n":1},{"t":119,"n":2},{"t":119,"n":3},{"t":119,"n":4},{"t":119,"n":5},{"t":119,"n":6},{"t":119,"n":7},{"t":119,"n":8},{"t":119,"n":9},{"t":119,"n":10},{"t":119,"n":11},{"t":119,"n":12},{"t":119,"n":15},{"t":119,"n":16}]},"mark":{"type":"point","filled":true,"opacity":1,"shape":"circle","size":24},"encoding":{"x":{"field":"t","type":"quantitative","title":"Time","scale":{"domain":[12.17,121.7],"nice":false,"zero":false},"axis":{"values":[15,25,35,45,55,65,75,85,95,105,115],"labelOverlap":false}},"y":{"field":"n","type":"quantitative","title":"Cancellations by day per minute","scale":{"domain":[-0.44,16.35],"nice":false,"zero":false},"axis":{"values":[0,5,10,15]}},"color":{"datum":"Cancellations","scale":{"domain":["Cancellations","8:10 AM","8:30 AM"],"range":["#1a476f","#008000","#ff0000"]},"legend":{"legendX":-11,"legendY":326,"encoding":{"symbols":{"shape":{"value":{"signal":"datum.value==='Cancellations'?'circle':'stroke'"}},"size":{"value":{"signal":"datum.value==='Cancellations'?24:1369"}},"stroke":{"value":{"signal":"datum.value==='Cancellations'?'#1a476f':datum.value==='8:10 AM'?'#008000':'#ff0000'"}},"strokeWidth":{"value":1}},"labels":{"dx":{"value":{"signal":"datum.value==='Cancellations'?-18:0"}}}}}}}}]},{"title":{"text":"NON-HFT-OWN","dy":14.6},"width":334,"height":304.5,"layer":[{"data":{"values":[{"t":15,"n":0},{"t":15,"n":2},{"t":16,"n":0},{"t":17,"n":0},{"t":17,"n":4},{"t":18,"n":0},{"t":19,"n":0},{"t":21,"n":0},{"t":21,"n":11},{"t":22,"n":0},{"t":23,"n":0},{"t":24,"n":0},{"t":25,"n":0},{"t":27,"n":0},{"t":28,"n":0},{"t":30,"n":0},{"t":31,"n":0},{"t":31,"n":3},{"t":32,"n":0},{"t":33,"n":0},{"t":34,"n":0},{"t":35,"n":0},{"t":36,"n":0},{"t":36,"n":9},{"t":37,"n":0},{"t":38,"n":0},{"t":39,"n":0},{"t":40,"n":0},{"t":41,"n":0},{"t":42,"n":0},{"t":43,"n":0},{"t":44,"n":0},{"t":45,"n":0},{"t":45,"n":3},{"t":46,"n":0},{"t":47,"n":0},{"t":48,"n":0},{"t":49,"n":0},{"t":50,"n":0},{"t":51,"n":0},{"t":52,"n":0},{"t":52,"n":4},{"t":52,"n":8},{"t":53,"n":0},{"t":54,"n":0},{"t":55,"n":0},{"t":55,"n":3},{"t":56,"n":0},{"t":57,"n":0},{"t":58,"n":0},{"t":59,"n":0},{"t":60,"n":0},{"t":61,"n":0},{"t":62,"n":0},{"t":62,"n":4},{"t":63,"n":0},{"t":64,"n":0},{"t":64,"n":4},{"t":65,"n":0},{"t":66,"n":0},{"t":66,"n":5},{"t":67,"n":0},{"t":68,"n":0},{"t":68,"n":3},{"t":69,"n":0},{"t":70,"n":0},{"t":71,"n":0},{"t":72,"n":0},{"t":72,"n":5},{"t":73,"n":0},{"t":73,"n":8},{"t":74,"n":0},{"t":75,"n":0},{"t":76,"n":0},{"t":76,"n":4},{"t":77,"n":0},{"t":78,"n":0},{"t":78,"n":11},{"t":79,"n":0},{"t":79,"n":15},{"t":80,"n":0},{"t":80,"n":6},{"t":81,"n":0},{"t":81,"n":3},{"t":82,"n":0},{"t":82,"n":5},{"t":83,"n":0},{"t":84,"n":0},{"t":84,"n":4},{"t":85,"n":0},{"t":86,"n":0},{"t":86,"n":4},{"t":87,"n":0},{"t":88,"n":0},{"t":88,"n":4},{"t":89,"n":0},{"t":89,"n":7},{"t":90,"n":0},{"t":90,"n":4},{"t":91,"n":0},{"t":91,"n":4},{"t":91,"n":7},{"t":91,"n":11},{"t":92,"n":0},{"t":92,"n":4},{"t":92,"n":6},{"t":93,"n":0},{"t":93,"n":4},{"t":93,"n":9},{"t":93,"n":13},{"t":93,"n":17},{"t":93,"n":21},{"t":94,"n":0},{"t":94,"n":4},{"t":95,"n":0},{"t":95,"n":4},{"t":95,"n":6},{"t":96,"n":0},{"t":96,"n":4},{"t":97,"n":0},{"t":97,"n":4},{"t":97,"n":6},{"t":98,"n":0},{"t":98,"n":4},{"t":98,"n":6},{"t":99,"n":0},{"t":99,"n":4},{"t":100,"n":0},{"t":100,"n":4},{"t":100,"n":6},{"t":100,"n":11},{"t":101,"n":0},{"t":101,"n":4},{"t":102,"n":0},{"t":102,"n":4},{"t":102,"n":7},{"t":103,"n":0},{"t":103,"n":4},{"t":104,"n":0},{"t":104,"n":4},{"t":104,"n":6},{"t":105,"n":0},{"t":105,"n":4},{"t":105,"n":8},{"t":105,"n":18},{"t":106,"n":0},{"t":106,"n":4},{"t":106,"n":7},{"t":106,"n":16},{"t":107,"n":0},{"t":107,"n":4},{"t":107,"n":14},{"t":108,"n":0},{"t":108,"n":4},{"t":108,"n":14},{"t":109,"n":0},{"t":109,"n":4},{"t":109,"n":13},{"t":109,"n":80},{"t":110,"n":0},{"t":110,"n":4},{"t":110,"n":7},{"t":110,"n":13},{"t":110,"n":87},{"t":110,"n":88},{"t":111,"n":0},{"t":111,"n":4},{"t":111,"n":8},{"t":111,"n":12},{"t":111,"n":14},{"t":111,"n":111},{"t":111,"n":112},{"t":111,"n":195},{"t":111,"n":240},{"t":112,"n":0},{"t":112,"n":4},{"t":112,"n":8},{"t":112,"n":11},{"t":112,"n":88},{"t":112,"n":167},{"t":112,"n":240},{"t":113,"n":0},{"t":113,"n":4},{"t":113,"n":8},{"t":113,"n":12},{"t":113,"n":18},{"t":113,"n":76},{"t":113,"n":88},{"t":113,"n":164},{"t":113,"n":171},{"t":113,"n":172},{"t":113,"n":240},{"t":114,"n":0},{"t":114,"n":4},{"t":114,"n":8},{"t":114,"n":12},{"t":114,"n":59},{"t":114,"n":88},{"t":114,"n":240},{"t":115,"n":0},{"t":115,"n":4},{"t":115,"n":8},{"t":115,"n":12},{"t":115,"n":15},{"t":115,"n":70},{"t":115,"n":88},{"t":115,"n":240},{"t":116,"n":0},{"t":116,"n":4},{"t":116,"n":8},{"t":116,"n":12},{"t":116,"n":17},{"t":116,"n":25},{"t":116,"n":35},{"t":116,"n":87},{"t":116,"n":240},{"t":117,"n":0},{"t":117,"n":4},{"t":117,"n":8},{"t":117,"n":12},{"t":117,"n":15},{"t":117,"n":88},{"t":117,"n":240},{"t":118,"n":0},{"t":118,"n":4},{"t":118,"n":8},{"t":118,"n":12},{"t":118,"n":16},{"t":118,"n":38},{"t":118,"n":240},{"t":119,"n":0},{"t":119,"n":4},{"t":119,"n":8},{"t":119,"n":12},{"t":119,"n":16},{"t":119,"n":20},{"t":119,"n":23},{"t":119,"n":26},{"t":119,"n":28},{"t":119,"n":115},{"t":119,"n":145},{"t":119,"n":240}]},"mark":{"type":"point","filled":true,"opacity":1,"shape":"circle","size":24},"encoding":{"x":{"field":"t","type":"quantitative","title":"Time","scale":{"domain":[12.62,121.4],"nice":false,"zero":false},"axis":{"values":[15,25,35,45,55,65,75,85,95,105,115],"labelOverlap":false}},"y":{"field":"n","type":"quantitative","title":null,"scale":{"domain":[-6.02,250],"range":[304.5,-5.8],"nice":false,"zero":false},"axis":{"values":[0,50,100,150,200,250]}},"color":{"datum":"Cancellations","scale":{"domain":["Cancellations","8:10 AM","8:30 AM"],"range":["#1a476f","#008000","#ff0000"]},"legend":{"legendX":-12,"legendY":326,"symbolSize":1521,"labelOffset":17,"columnPadding":30,"encoding":{"symbols":{"shape":{"value":{"signal":"datum.value==='Cancellations'?'circle':'stroke'"}},"size":{"value":{"signal":"datum.value==='Cancellations'?24:1521"}},"stroke":{"value":{"signal":"datum.value==='Cancellations'?'#1a476f':datum.value==='8:10 AM'?'#008000':'#ff0000'"}},"strokeWidth":{"value":1}},"labels":{"dx":{"value":{"signal":"datum.value==='Cancellations'?-19:0"}}}}}}}},{"data":{"values":[{"t":70,"a":0,"b":240,"s":"8:10 AM"},{"t":90,"a":0,"b":240,"s":"8:30 AM"}]},"mark":{"type":"rule","strokeWidth":1.2},"encoding":{"x":{"field":"t","type":"quantitative","title":"Time","axis":{"values":[15,25,35,45,55,65,75,85,95,105,115],"labelOverlap":false}},"y":{"field":"a","type":"quantitative"},"y2":{"field":"b"},"color":{"field":"s","type":"nominal"}}}]},{"title":{"text":"NON-HFT-CLIENT","dy":7},"width":332,"height":304.5,"layer":[{"data":{"values":[{"t":15,"n":0},{"t":15,"n":9},{"t":15,"n":18},{"t":15,"n":27},{"t":15,"n":36},{"t":15,"n":45},{"t":15,"n":55},{"t":15,"n":68},{"t":15,"n":72},{"t":15,"n":78},{"t":16,"n":4},{"t":16,"n":13},{"t":16,"n":22},{"t":16,"n":31},{"t":16,"n":40},{"t":16,"n":50},{"t":16,"n":57},{"t":17,"n":0},{"t":17,"n":9},{"t":17,"n":18},{"t":17,"n":27},{"t":17,"n":36},{"t":17,"n":45},{"t":17,"n":55},{"t":18,"n":4},{"t":18,"n":13},{"t":18,"n":22},{"t":18,"n":31},{"t":18,"n":42},{"t":19,"n":0},{"t":19,"n":9},{"t":19,"n":18},{"t":19,"n":27},{"t":19,"n":30},{"t":20,"n":4},{"t":20,"n":13},{"t":20,"n":25},{"t":21,"n":0},{"t":21,"n":9},{"t":21,"n":15},{"t":21,"n":22},{"t":21,"n":44},{"t":22,"n":0},{"t":22,"n":5},{"t":23,"n":0},{"t":24,"n":0},{"t":24,"n":5},{"t":25,"n":0},{"t":26,"n":0},{"t":26,"n":5},{"t":27,"n":0},{"t":28,"n":0},{"t":28,"n":5},{"t":29,"n":0},{"t":30,"n":4},{"t":30,"n":13},{"t":30,"n":22},{"t":30,"n":31},{"t":30,"n":40},{"t":30,"n":52},{"t":30,"n":78},{"t":31,"n":0},{"t":31,"n":9},{"t":31,"n":18},{"t":31,"n":27},{"t":31,"n":40},{"t":32,"n":4},{"t":32,"n":13},{"t":32,"n":22},{"t":32,"n":30},{"t":33,"n":0},{"t":33,"n":9},{"t":33,"n":18},{"t":33,"n":30},{"t":33,"n":38},{"t":34,"n":4},{"t":34,"n":12},{"t":35,"n":0},{"t":35,"n":9},{"t":35,"n":18},{"t":35,"n":22},{"t":36,"n":4},{"t":37,"n":0},{"t":37,"n":8},{"t":38,"n":4},{"t":39,"n":0},{"t":39,"n":14},{"t":40,"n":0},{"t":40,"n":8},{"t":40,"n":17},{"t":40,"n":25},{"t":40,"n":38},{"t":40,"n":51},{"t":40,"n":62},{"t":40,"n":76},{"t":41,"n":0},{"t":41,"n":8},{"t":41,"n":17},{"t":41,"n":25},{"t":41,"n":38},{"t":41,"n":51},{"t":41,"n":62},{"t":41,"n":76},{"t":41,"n":85},{"t":41,"n":98},{"t":41,"n":108},{"t":41,"n":128},{"t":42,"n":0},{"t":42,"n":8},{"t":42,"n":17},{"t":42,"n":25},{"t":42,"n":38},{"t":42,"n":51},{"t":42,"n":62},{"t":42,"n":76},{"t":42,"n":172},{"t":43,"n":0},{"t":43,"n":8},{"t":43,"n":17},{"t":43,"n":25},{"t":43,"n":38},{"t":43,"n":51},{"t":43,"n":62},{"t":43,"n":76},{"t":44,"n":0},{"t":44,"n":8},{"t":44,"n":17},{"t":44,"n":25},{"t":44,"n":38},{"t":44,"n":51},{"t":44,"n":62},{"t":44,"n":76},{"t":45,"n":0},{"t":45,"n":8},{"t":45,"n":17},{"t":45,"n":25},{"t":45,"n":38},{"t":45,"n":51},{"t":45,"n":62},{"t":45,"n":76},{"t":45,"n":95},{"t":46,"n":0},{"t":46,"n":8},{"t":46,"n":17},{"t":46,"n":25},{"t":46,"n":38},{"t":46,"n":51},{"t":46,"n":62},{"t":46,"n":76},{"t":47,"n":0},{"t":47,"n":8},{"t":47,"n":17},{"t":47,"n":25},{"t":47,"n":38},{"t":47,"n":51},{"t":47,"n":62},{"t":47,"n":76},{"t":48,"n":0},{"t":48,"n":8},{"t":48,"n":17},{"t":48,"n":25},{"t":48,"n":38},{"t":48,"n":51},{"t":48,"n":62},{"t":48,"n":76},{"t":49,"n":0},{"t":49,"n":8},{"t":49,"n":17},{"t":49,"n":25},{"t":49,"n":38},{"t":49,"n":51},{"t":49,"n":62},{"t":49,"n":76},{"t":50,"n":0},{"t":50,"n":8},{"t":50,"n":17},{"t":50,"n":25},{"t":50,"n":38},{"t":50,"n":51},{"t":50,"n":62},{"t":50,"n":76},{"t":51,"n":0},{"t":51,"n":8},{"t":51,"n":17},{"t":51,"n":25},{"t":51,"n":38},{"t":51,"n":51},{"t":51,"n":62},{"t":51,"n":76},{"t":51,"n":95},{"t":51,"n":105},{"t":51,"n":118},{"t":51,"n":130},{"t":51,"n":140},{"t":51,"n":160},{"t":51,"n":183},{"t":51,"n":228},{"t":52,"n":0},{"t":52,"n":8},{"t":52,"n":17},{"t":52,"n":25},{"t":52,"n":38},{"t":52,"n":51},{"t":52,"n":62},{"t":52,"n":76},{"t":52,"n":85},{"t":52,"n":100},{"t":52,"n":115},{"t":52,"n":125},{"t":52,"n":135},{"t":52,"n":158},{"t":52,"n":185},{"t":52,"n":318},{"t":53,"n":0},{"t":53,"n":8},{"t":53,"n":17},{"t":53,"n":25},{"t":53,"n":38},{"t":53,"n":51},{"t":53,"n":62},{"t":53,"n":76},{"t":53,"n":85},{"t":53,"n":105},{"t":53,"n":118},{"t":53,"n":130},{"t":53,"n":140},{"t":53,"n":160},{"t":53,"n":165},{"t":53,"n":198},{"t":53,"n":218},{"t":53,"n":490},{"t":54,"n":0},{"t":54,"n":8},{"t":54,"n":17},{"t":54,"n":25},{"t":54,"n":38},{"t":54,"n":51},{"t":54,"n":62},{"t":54,"n":76},{"t":54,"n":85},{"t":54,"n":95},{"t":54,"n":115},{"t":54,"n":155},{"t":54,"n":165},{"t":55,"n":0},{"t":55,"n":8},{"t":55,"n":17},{"t":55,"n":25},{"t":55,"n":38},{"t":55,"n":51},{"t":55,"n":62},{"t":55,"n":76},{"t":55,"n":105},{"t":55,"n":125},{"t":55,"n":285},{"t":56,"n":0},{"t":56,"n":8},{"t":56,"n":17},{"t":56,"n":25},{"t":56,"n":38},{"t":56,"n":51},{"t":56,"n":62},{"t":56,"n":76},{"t":56,"n":172},{"t":57,"n":0},{"t":57,"n":8},{"t":57,"n":17},{"t":57,"n":25},{"t":57,"n":38},{"t":57,"n":51},{"t":57,"n":62},{"t":57,"n":76},{"t":58,"n":0},{"t":58,"n":8},{"t":58,"n":17},{"t":58,"n":25},{"t":58,"n":38},{"t":58,"n":51},{"t":58,"n":62},{"t":58,"n":76},{"t":59,"n":0},{"t":59,"n":8},{"t":59,"n":17},{"t":59,"n":25},{"t":59,"n":38},{"t":59,"n":51},{"t":59,"n":60},{"t":60,"n":0},{"t":60,"n":8},{"t":60,"n":17},{"t":60,"n":32},{"t":61,"n":0},{"t":61,"n":8},{"t":61,"n":18},{"t":61,"n":23},{"t":62,"n":0},{"t":62,"n":8},{"t":62,"n":18},{"t":63,"n":0},{"t":63,"n":8},{"t":63,"n":18},{"t":63,"n":23},{"t":64,"n":0},{"t":64,"n":8},{"t":64,"n":18},{"t":65,"n":0},{"t":65,"n":8},{"t":65,"n":18},{"t":65,"n":23},{"t":65,"n":46},{"t":66,"n":0},{"t":66,"n":8},{"t":66,"n":17},{"t":67,"n":0},{"t":67,"n":8},{"t":67,"n":17},{"t":67,"n":46},{"t":68,"n":0},{"t":68,"n":8},{"t":68,"n":17},{"t":68,"n":42},{"t":68,"n":60},{"t":69,"n":0},{"t":69,"n":8},{"t":69,"n":17},{"t":70,"n":0},{"t":70,"n":9},{"t":70,"n":16},{"t":71,"n":0},{"t":71,"n":5},{"t":71,"n":13},{"t":72,"n":0},{"t":72,"n":9},{"t":72,"n":20},{"t":73,"n":0},{"t":73,"n":5},{"t":73,"n":13},{"t":74,"n":0},{"t":74,"n":9},{"t":74,"n":16},{"t":75,"n":0},{"t":75,"n":5},{"t":75,"n":13},{"t":76,"n":0},{"t":76,"n":9},{"t":76,"n":16},{"t":77,"n":0},{"t":77,"n":5},{"t":77,"n":13},{"t":77,"n":40},{"t":78,"n":0},{"t":78,"n":9},{"t":78,"n":16},{"t":79,"n":0},{"t":79,"n":5},{"t":79,"n":13},{"t":80,"n":0},{"t":80,"n":9},{"t":80,"n":18},{"t":80,"n":35},{"t":81,"n":0},{"t":81,"n":5},{"t":81,"n":13},{"t":81,"n":34},{"t":82,"n":0},{"t":82,"n":9},{"t":82,"n":16},{"t":83,"n":0},{"t":83,"n":5},{"t":83,"n":13},{"t":84,"n":0},{"t":84,"n":9},{"t":85,"n":0},{"t":85,"n":5},{"t":85,"n":13},{"t":86,"n":0},{"t":86,"n":9},{"t":87,"n":0},{"t":87,"n":5},{"t":88,"n":0},{"t":88,"n":9},{"t":89,"n":0},{"t":89,"n":5},{"t":89,"n":13},{"t":90,"n":0},{"t":90,"n":9},{"t":90,"n":18},{"t":90,"n":42},{"t":91,"n":0},{"t":91,"n":5},{"t":91,"n":13},{"t":92,"n":0},{"t":92,"n":9},{"t":93,"n":0},{"t":93,"n":5},{"t":93,"n":13},{"t":94,"n":0},{"t":94,"n":9},{"t":94,"n":16},{"t":95,"n":0},{"t":95,"n":5},{"t":95,"n":13},{"t":96,"n":0},{"t":96,"n":9},{"t":96,"n":16},{"t":96,"n":38},{"t":96,"n":82},{"t":97,"n":0},{"t":97,"n":5},{"t":97,"n":13},{"t":97,"n":22},{"t":97,"n":38},{"t":97,"n":187},{"t":98,"n":0},{"t":98,"n":9},{"t":98,"n":16},{"t":99,"n":0},{"t":99,"n":5},{"t":99,"n":13},{"t":100,"n":0},{"t":100,"n":9},{"t":100,"n":16},{"t":101,"n":0},{"t":101,"n":5},{"t":101,"n":13},{"t":102,"n":0},{"t":102,"n":9},{"t":102,"n":16},{"t":103,"n":0},{"t":103,"n":5},{"t":103,"n":13},{"t":103,"n":50},{"t":104,"n":0},{"t":104,"n":9},{"t":104,"n":16},{"t":104,"n":42},{"t":105,"n":0},{"t":105,"n":5},{"t":105,"n":13},{"t":106,"n":0},{"t":106,"n":9},{"t":106,"n":16},{"t":107,"n":0},{"t":107,"n":5},{"t":107,"n":13},{"t":107,"n":20},{"t":107,"n":50},{"t":108,"n":0},{"t":108,"n":9},{"t":108,"n":16},{"t":108,"n":50},{"t":109,"n":0},{"t":109,"n":5},{"t":109,"n":13},{"t":109,"n":38},{"t":110,"n":0},{"t":110,"n":9},{"t":110,"n":18},{"t":110,"n":62},{"t":111,"n":0},{"t":111,"n":5},{"t":111,"n":13},{"t":111,"n":28},{"t":112,"n":0},{"t":112,"n":9},{"t":112,"n":18},{"t":112,"n":85},{"t":113,"n":0},{"t":113,"n":5},{"t":113,"n":13},{"t":114,"n":0},{"t":114,"n":9},{"t":114,"n":18},{"t":114,"n":23},{"t":115,"n":0},{"t":115,"n":5},{"t":115,"n":13},{"t":115,"n":22},{"t":115,"n":162},{"t":116,"n":0},{"t":116,"n":9},{"t":116,"n":18},{"t":116,"n":28},{"t":116,"n":38},{"t":116,"n":50},{"t":116,"n":60},{"t":117,"n":0},{"t":117,"n":5},{"t":117,"n":13},{"t":117,"n":22},{"t":117,"n":70},{"t":117,"n":78},{"t":118,"n":0},{"t":118,"n":9},{"t":118,"n":18},{"t":118,"n":28},{"t":119,"n":0},{"t":119,"n":9},{"t":119,"n":18},{"t":119,"n":27},{"t":119,"n":36},{"t":119,"n":45},{"t":119,"n":54},{"t":119,"n":62},{"t":119,"n":172}]},"mark":{"type":"point","filled":true,"opacity":1,"shape":"circle","size":24},"encoding":{"x":{"field":"t","type":"quantitative","title":"Time","scale":{"domain":[12.8,120.7],"nice":false,"zero":false},"axis":{"values":[15,25,35,45,55,65,75,85,95,105,115],"labelOverlap":false}},"y":{"field":"n","type":"quantitative","title":null,"scale":{"domain":[-12.4,505.4],"nice":false,"zero":false},"axis":{"values":[0,100,200,300,400,500]}},"color":{"datum":"Cancellations","scale":{"domain":["Cancellations","8:10 AM","8:30 AM"],"range":["#1a476f","#008000","#ff0000"]},"legend":{"legendX":-10,"legendY":326,"symbolSize":1521,"labelOffset":18,"columnPadding":30.5,"encoding":{"symbols":{"shape":{"value":{"signal":"datum.value==='Cancellations'?'circle':'stroke'"}},"size":{"value":{"signal":"datum.value==='Cancellations'?24:1521"}},"stroke":{"value":{"signal":"datum.value==='Cancellations'?'#1a476f':datum.value==='8:10 AM'?'#008000':'#ff0000'"}},"strokeWidth":{"value":1}},"labels":{"dx":{"value":{"signal":"datum.value==='Cancellations'?-20:0"}}}}}}}},{"data":{"values":[{"t":70,"a":0,"b":490,"s":"8:10 AM"},{"t":90,"a":0,"b":490,"s":"8:30 AM"}]},"mark":{"type":"rule","strokeWidth":1.2},"encoding":{"x":{"field":"t","type":"quantitative","title":"Time","axis":{"values":[15,25,35,45,55,65,75,85,95,105,115],"labelOverlap":false}},"y":{"field":"a","type":"quantitative"},"y2":{"field":"b"},"color":{"field":"s","type":"nominal"}}}]}]}
